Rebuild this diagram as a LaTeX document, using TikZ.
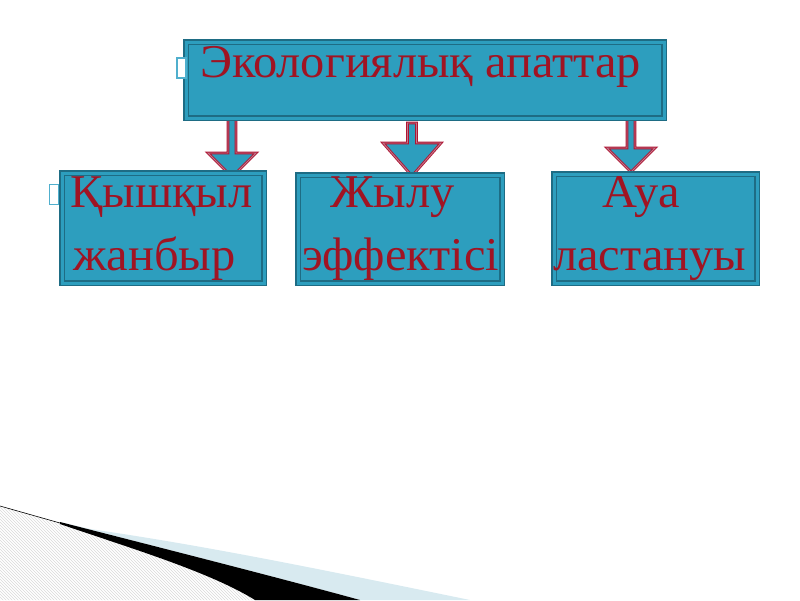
\documentclass[tikz,border=0pt]{standalone}
\usepackage{fontspec}
\setmainfont{Liberation Serif}
\usetikzlibrary{patterns}

\definecolor{boxfill}{RGB}{45,158,190}
\definecolor{boxline}{RGB}{30,108,132}
\definecolor{wordred}{RGB}{160,20,35}
\definecolor{arrowred}{RGB}{175,20,50}
\definecolor{arrowmid}{RGB}{190,120,140}
\definecolor{bulletline}{RGB}{80,175,205}
\definecolor{paleblue}{RGB}{216,234,240}

\tikzset{
  box/.style={draw=boxline,fill=boxfill,line width=1.2pt,double=boxfill,double distance=3pt,inner sep=0pt},
  word/.style={text=wordred,inner sep=0pt,anchor=base west,font=\fontsize{47}{52}\selectfont,xscale=1.03},
  bulletbox/.style={draw=bulletline,fill=white,line width=1.2pt,inner sep=0pt,minimum width=9pt,minimum height=20pt},
  blockarrow/.style={draw=arrowred,line width=0.9pt,double=arrowmid,double distance=0.9pt,fill=boxfill,line join=miter}
}
\newcommand\downblock[6]{% x, top, head top, tip, head half, shaft half
  \draw[blockarrow] (#1-#6,#2) -- (#1+#6,#2) -- (#1+#6,#3) -- (#1+#5,#3)
    -- (#1,#4) -- (#1-#5,#3) -- (#1-#6,#3) -- cycle;}

\begin{document}
\begin{tikzpicture}[x=1pt,y=-1pt]
\useasboundingbox (0,0) rectangle (800,600);

% corner decoration
\fill[paleblue] (90,529) .. controls (200,545) and (300,565) .. (470,600) -- (360,600)
  .. controls (280,578) and (150,545) .. (60,522) -- cycle;
\fill[pattern=north west lines,pattern color=gray!30] (0,506) -- (60,523)
  .. controls (130,548) and (210,572) .. (255,600) -- (0,600) -- cycle;
\fill[black] (60,522) .. controls (150,545) and (280,578) .. (360,600) -- (255,600)
  .. controls (210,572) and (130,548) .. (60,524) -- cycle;
\draw[black,line width=0.6pt] (0,506) -- (60,523);

% arrows
\downblock{232}{117}{153}{177}{24}{4}
\downblock{412}{123}{143}{176}{29}{4.5}
\downblock{631}{117}{148}{172}{24}{4}

% boxes
\node[box,minimum width=478pt,minimum height=76pt] (disaster) at (425,80) {};
\node[box,minimum width=202pt,minimum height=110pt] (acid) at (163,228) {};
\node[box,minimum width=204pt,minimum height=108pt] (warm) at (400,229) {};
\node[box,minimum width=203pt,minimum height=109pt] (air) at (655.5,228.5) {};

\node[bulletbox] (bul0) at (181.5,68) {};
\node[bulletbox] (bul1) at (54,194.5) {};

% texts
\node[word] (t0) at (200,77) {Экологиялық апаттар};
\node[word] (t1a) at (70,207) {Қышқыл};
\node[word] (t1b) at (73,270) {жанбыр};
\node[word] (t2a) at (330,207) {Жылу};
\node[word] (t2b) at (302,270) {эффектісі};
\node[word] (t3a) at (602,207) {Ауа};
\node[word] (t3b) at (553,270) {ластануы};
\end{tikzpicture}
\end{document}
